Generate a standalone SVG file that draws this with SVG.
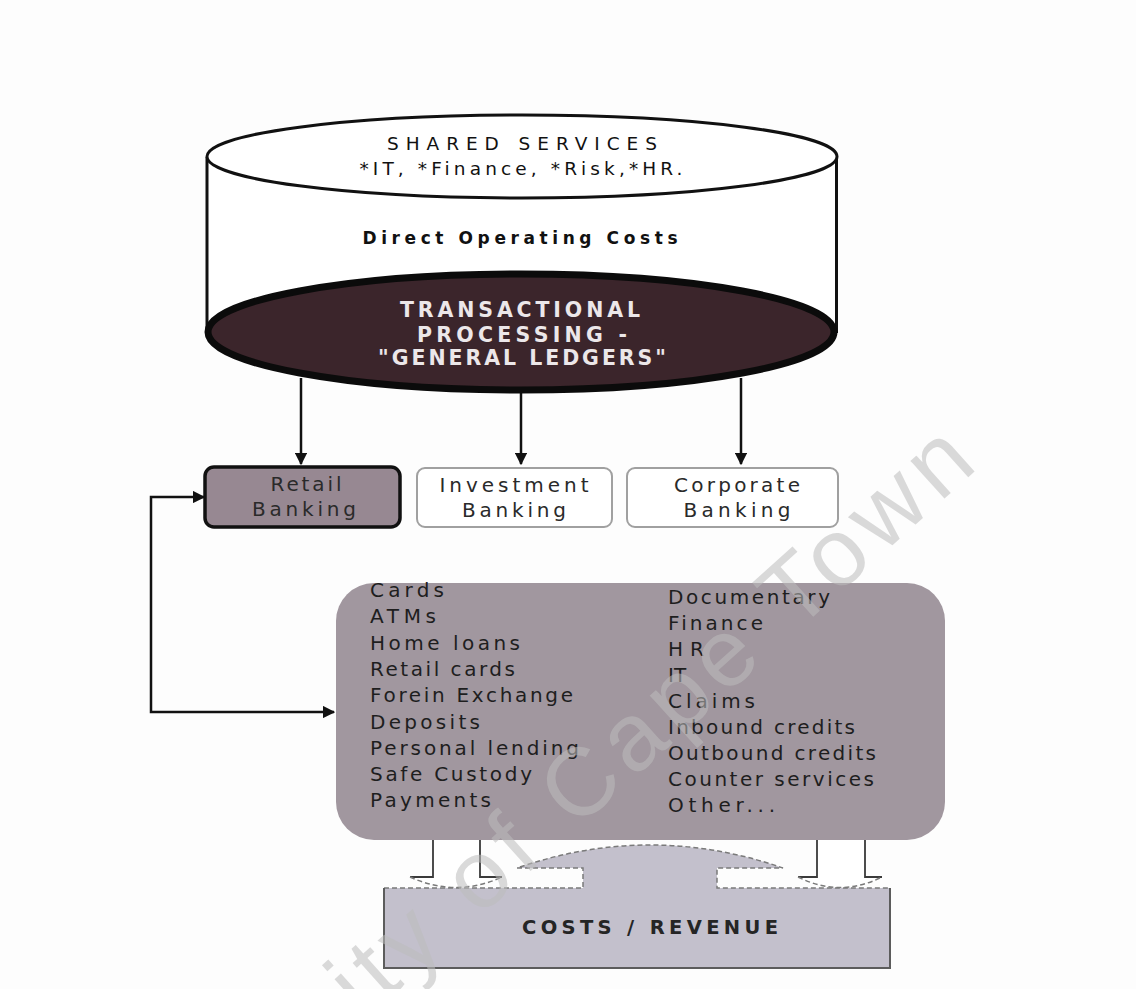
<svg xmlns="http://www.w3.org/2000/svg" width="1136" height="989" viewBox="0 0 1136 989">
  <style>
    .sans{font-family:"DejaVu Sans",Verdana,sans-serif}
    .hdr{font-size:18.5px;fill:#111;text-anchor:middle}
    .hdrb{font-size:17px;font-weight:bold;fill:#111;text-anchor:middle}
    .tp{font-size:20.5px;font-weight:bold;fill:#ece7e9;text-anchor:middle}
    .lbl{font-size:20px;fill:#2a2a2a;text-anchor:middle}
    .item{font-size:20px;fill:#1e1e1e}
    .cr{font-size:19.5px;font-weight:bold;fill:#252525;text-anchor:middle}
    .wall{stroke:#111;stroke-width:3;fill:none}
    .conn{stroke:#111;stroke-width:2.5;fill:none}
    .ghost{stroke:#a0a0a0;stroke-width:2;fill:#fff}
    .dash{stroke:#7a7a7a;stroke-width:1.5;fill:none;stroke-dasharray:5 3}
    .edge{stroke:#3a3a3a;stroke-width:1.8;fill:none}
    .wm{font-family:"Liberation Sans",Arial,sans-serif;font-size:96px;fill:#bdbdbd;opacity:0.55;letter-spacing:8px}
  </style>
  <defs>
    <marker id="ah" viewBox="0 0 10 10" refX="9" refY="5" markerWidth="5" markerHeight="5" orient="auto-start-reverse" markerUnits="strokeWidth">
      <path d="M0,0 L10,5 L0,10 Z" fill="#111"/>
    </marker>
  </defs>

  <rect width="1136" height="989" fill="#fdfdfd"/>

  <!-- arrows from the ledger layer and the feedback loop -->
  <g id="connectors">
    <path class="conn" d="M301,378 V464" marker-end="url(#ah)"/>
    <path class="conn" d="M521,390 V464" marker-end="url(#ah)"/>
    <path class="conn" d="M741,378 V464" marker-end="url(#ah)"/>
    <path class="conn" d="M204,497 H151 V712 H334" marker-start="url(#ah)" marker-end="url(#ah)"/>
  </g>

  <!-- shared services cylinder -->
  <g id="shared-services">
    <rect x="207" y="157" width="630" height="176" fill="#fff"/>
    <line class="wall" x1="207" y1="157" x2="207" y2="333"/>
    <line class="wall" x1="836.5" y1="157" x2="836.5" y2="333"/>
    <ellipse cx="522" cy="156.5" rx="315" ry="41.5" fill="#fff" stroke="#111" stroke-width="3"/>
    <text class="sans hdr" x="522" y="150" textLength="270" lengthAdjust="spacing">SHARED SERVICES</text>
    <text class="sans hdr" x="521" y="175" textLength="323" lengthAdjust="spacing">*IT, *Finance, *Risk,*HR.</text>
    <text class="sans hdrb" x="520" y="244" textLength="315" lengthAdjust="spacing">Direct Operating Costs</text>
  </g>

  <g id="transactional-processing">
    <ellipse cx="521" cy="332" rx="313" ry="58" fill="#3b252b" stroke="#0b0b0b" stroke-width="7"/>
    <text class="sans tp" x="520" y="317" textLength="240" lengthAdjust="spacing">TRANSACTIONAL</text>
    <text class="sans tp" x="522" y="342" textLength="210" lengthAdjust="spacing">PROCESSING -</text>
    <text class="sans tp" x="522" y="365" textLength="288" lengthAdjust="spacing">"GENERAL LEDGERS"</text>
  </g>

  <!-- business lines -->
  <g id="retail-banking">
    <rect x="205" y="467" width="195" height="60" rx="9" fill="#978892" stroke="#111" stroke-width="3.5"/>
    <text class="sans lbl" x="306" y="491" textLength="71" lengthAdjust="spacing">Retail</text>
    <text class="sans lbl" x="304" y="516" textLength="104" lengthAdjust="spacing">Banking</text>
  </g>
  <g id="investment-banking">
    <rect class="ghost" x="417" y="468" width="195" height="59" rx="8"/>
    <text class="sans lbl" x="514" y="492" textLength="149" lengthAdjust="spacing">Investment</text>
    <text class="sans lbl" x="514" y="517" textLength="104" lengthAdjust="spacing">Banking</text>
  </g>
  <g id="corporate-banking">
    <rect class="ghost" x="627" y="468" width="211" height="59" rx="8"/>
    <text class="sans lbl" x="737" y="492" textLength="126" lengthAdjust="spacing">Corporate</text>
    <text class="sans lbl" x="737" y="517" textLength="107" lengthAdjust="spacing">Banking</text>
  </g>

  <!-- products and functions -->
  <g id="activities">
    <rect x="336" y="583" width="609" height="257" rx="38" fill="#a1979f"/>
    <g class="sans item">
      <text x="370" y="597" textLength="74" lengthAdjust="spacing">Cards</text>
      <text x="370" y="623" textLength="66" lengthAdjust="spacing">ATMs</text>
      <text x="370" y="650" textLength="150" lengthAdjust="spacing">Home loans</text>
      <text x="370" y="676" textLength="145" lengthAdjust="spacing">Retail cards</text>
      <text x="370" y="702" textLength="203" lengthAdjust="spacing">Forein Exchange</text>
      <text x="370" y="729" textLength="110" lengthAdjust="spacing">Deposits</text>
      <text x="370" y="755" textLength="209" lengthAdjust="spacing">Personal lending</text>
      <text x="370" y="781" textLength="162" lengthAdjust="spacing">Safe Custody</text>
      <text x="370" y="807" textLength="121" lengthAdjust="spacing">Payments</text>
      <text x="668" y="604" textLength="162" lengthAdjust="spacing">Documentary</text>
      <text x="668" y="630" textLength="95" lengthAdjust="spacing">Finance</text>
      <text x="668" y="656" textLength="36" lengthAdjust="spacing">HR</text>
      <text x="668" y="682">IT</text>
      <text x="668" y="708" textLength="87" lengthAdjust="spacing">Claims</text>
      <text x="668" y="734" textLength="187" lengthAdjust="spacing">Inbound credits</text>
      <text x="668" y="760" textLength="208" lengthAdjust="spacing">Outbound credits</text>
      <text x="668" y="786" textLength="206" lengthAdjust="spacing">Counter services</text>
      <text x="668" y="812" textLength="107" lengthAdjust="spacing">Other...</text>
    </g>
  </g>

  <!-- flows down into the result box -->
  <g id="flow-left">
    <path d="M433,840 H480 V877 H502 Q456,898 410,877 H433 Z" fill="#fff"/>
    <path class="edge" d="M410,877 H433 V840 M480,840 V877 H502"/>
    <path class="dash" d="M410,877 Q456,898 502,877"/>
  </g>
  <g id="flow-right">
    <path d="M817,840 H865 V877 H882 Q840,898 798,877 H817 Z" fill="#fff"/>
    <path class="edge" d="M798,877 H817 V840 M865,840 V877 H882"/>
    <path class="dash" d="M798,877 Q840,898 882,877"/>
  </g>

  <g id="costs-revenue">
    <path d="M384,888 H583 V868 H517 Q650,822 783,868 H717 V888 H890 V968 H384 Z" fill="#c3c0cc"/>
    <path class="dash" d="M384,888 H583 V868 H517 Q650,822 783,868 H717 V888 H890"/>
    <path d="M384,888 V968 H890 V888" fill="none" stroke="#5c5c5c" stroke-width="2"/>
    <text class="sans cr" x="650" y="934" textLength="256" lengthAdjust="spacing">COSTS / REVENUE</text>
  </g>

  <text class="wm" x="985" y="462" text-anchor="end" transform="rotate(-42 985 462)">University of Cape Town</text>
</svg>
